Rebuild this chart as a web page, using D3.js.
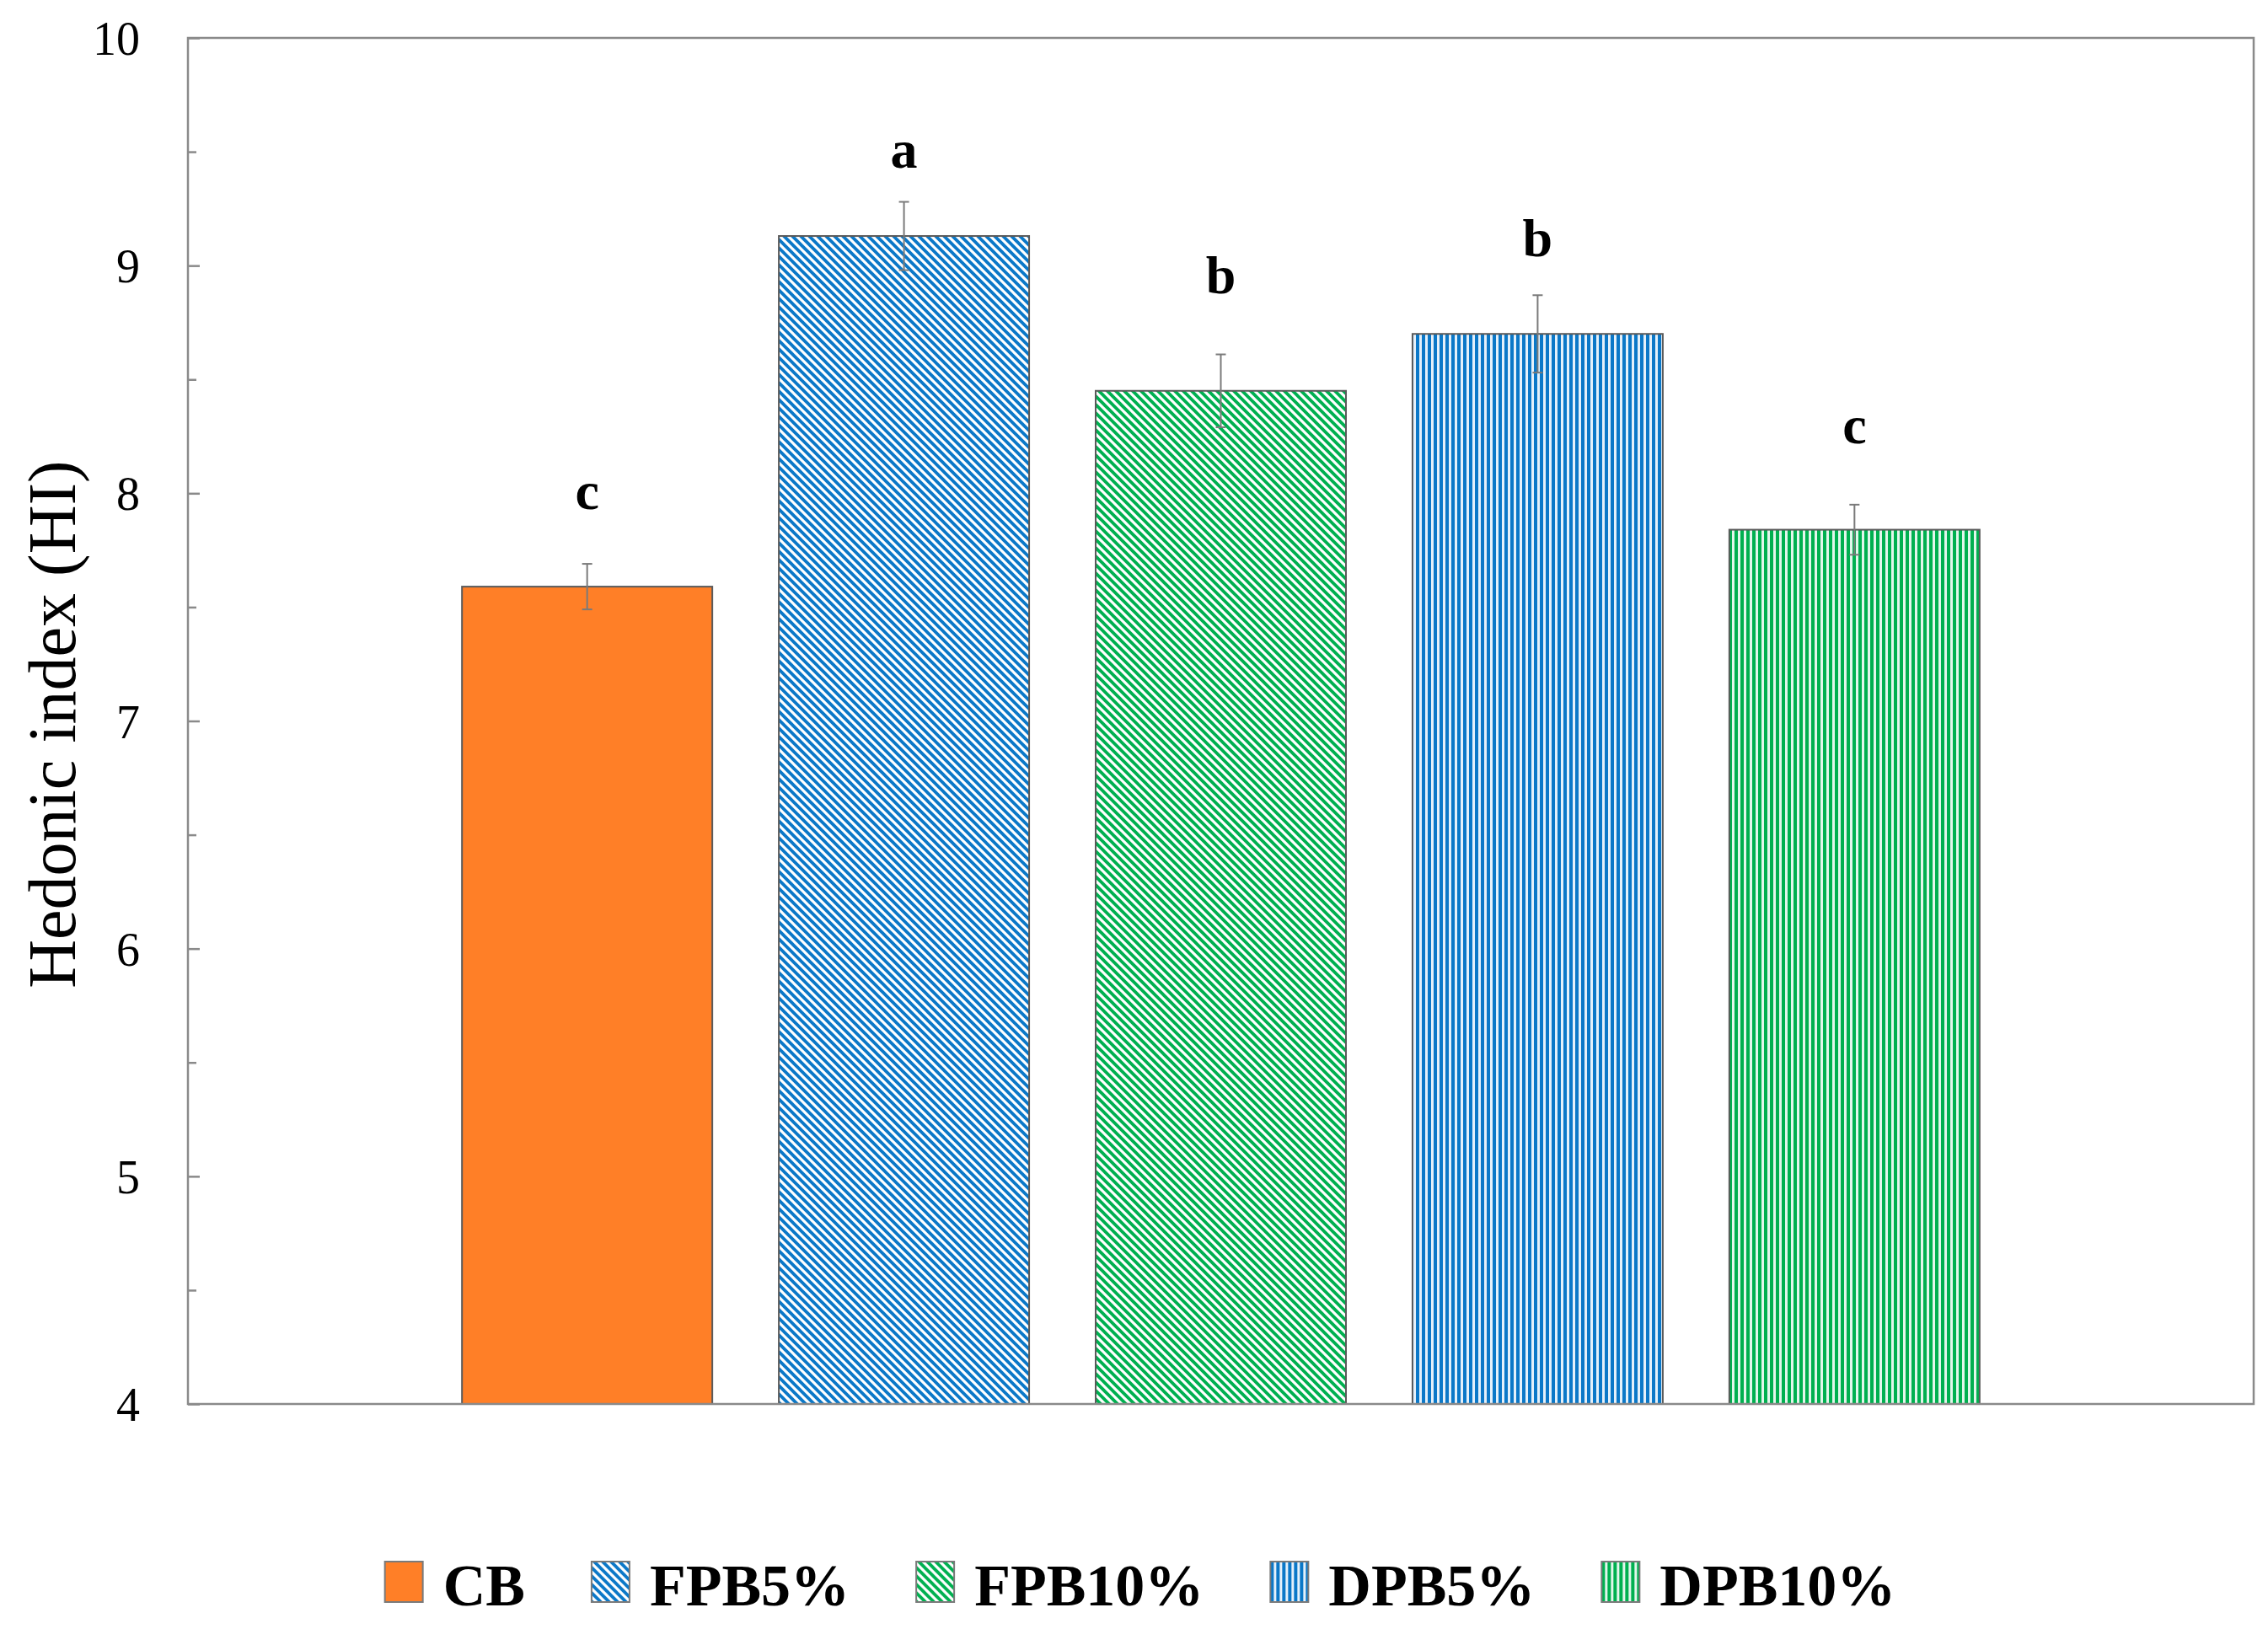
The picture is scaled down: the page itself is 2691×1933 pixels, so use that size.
<!DOCTYPE html>
<html>
<head>
<meta charset="utf-8">
<script src="https://cdn.jsdelivr.net/npm/d3@7"></script>
<style>
  html, body { margin: 0; padding: 0; background: #ffffff; }
  svg { display: block; }
</style>
</head>
<body>
<script>
// ---------- data ----------
const categories = ["CB", "FPB5%", "FPB10%", "DPB5%", "DPB10%"];
const hedonicValues = [7.59, 9.13, 8.45, 8.70, 7.84];
const errorValues = [0.10, 0.15, 0.16, 0.17, 0.11];
const letters = ["c", "a", "b", "b", "c"];
const letterLevels = [7.93, 9.43, 8.88, 9.04, 8.22];
const yTicks = [4, 5, 6, 7, 8, 9, 10];
const yMinorTicks = [4.5, 5.5, 6.5, 7.5, 8.5, 9.5];
const yLabel = "Hedonic index (HI)";
const fills = ["orange", "diagBlue", "diagGreen", "vertBlue", "vertGreen"];

// ---------- layout ----------
const W = 2691, H = 1933;
const plot = { left: 223, right: 2674, top: 45, bottom: 1666 };
const BLUE = "#0b78c8", GREEN = "#00b050", ORANGE = "#ff7f27";
const AXIS = "#8a8a8a";

const svg = d3.select("body").append("svg")
  .attr("width", W).attr("height", H)
  .attr("viewBox", `0 0 ${W} ${H}`);

// patterns
const defs = svg.append("defs");
function diag(id, color) {
  const p = defs.append("pattern").attr("id", id)
    .attr("patternUnits", "userSpaceOnUse").attr("width", 10).attr("height", 10);
  p.append("rect").attr("width", 10).attr("height", 10).attr("fill", "#ffffff");
  p.append("path").attr("d", "M-5,-5 L15,15 M-5,5 L5,15 M5,-5 L15,5")
    .attr("stroke", color).attr("stroke-width", 3.8).attr("fill", "none");
}
function vert(id, color, bg) {
  const p = defs.append("pattern").attr("id", id)
    .attr("patternUnits", "userSpaceOnUse").attr("width", 7).attr("height", 7);
  p.append("rect").attr("width", 7).attr("height", 7).attr("fill", bg);
  p.append("rect").attr("x", 0).attr("width", 4).attr("height", 7).attr("fill", color);
}
diag("diagBlue", BLUE);
diag("diagGreen", GREEN);
vert("vertBlue", BLUE, "#e4f0fa");
vert("vertGreen", GREEN, "#e2f6eb");
const fillOf = f => f === "orange" ? ORANGE : `url(#${f})`;

// scales
const x = d3.scaleBand().domain(categories)
  .range([plot.left, plot.right])
  .paddingInner(0.21).paddingOuter(0.865);
const y = d3.scaleLinear().domain([4, 10]).range([plot.bottom, plot.top]);

const FONT = "'Liberation Serif', 'Times New Roman', serif";

// bars
const data = categories.map((c, i) => ({
  c, v: hedonicValues[i], e: errorValues[i], l: letters[i], ly: letterLevels[i], f: fills[i]
}));

svg.append("g").selectAll("rect").data(data).join("rect")
  .attr("x", d => x(d.c))
  .attr("y", d => y(d.v))
  .attr("width", x.bandwidth())
  .attr("height", d => y(4) - y(d.v))
  .attr("fill", d => fillOf(d.f))
  .attr("stroke", "#5a5a5a")
  .attr("stroke-width", 2);

// error bars
const eg = svg.append("g").attr("stroke", "#7a7a7a").attr("stroke-width", 2).attr("fill", "none");
data.forEach(d => {
  const cx = x(d.c) + x.bandwidth() / 2;
  eg.append("line").attr("x1", cx).attr("x2", cx).attr("y1", y(d.v + d.e)).attr("y2", y(d.v - d.e));
  eg.append("line").attr("x1", cx - 6).attr("x2", cx + 6).attr("y1", y(d.v + d.e)).attr("y2", y(d.v + d.e));
  eg.append("line").attr("x1", cx - 6).attr("x2", cx + 6).attr("y1", y(d.v - d.e)).attr("y2", y(d.v - d.e));
});

// letters
svg.append("g").selectAll("text").data(data).join("text")
  .attr("x", d => x(d.c) + x.bandwidth() / 2)
  .attr("y", d => y(d.ly))
  .attr("text-anchor", "middle")
  .attr("font-family", FONT)
  .attr("font-weight", "bold")
  .attr("font-size", 64)
  .attr("fill", "#000")
  .text(d => d.l);

// frame
svg.append("rect")
  .attr("x", plot.left).attr("y", plot.top)
  .attr("width", plot.right - plot.left).attr("height", plot.bottom - plot.top)
  .attr("fill", "none").attr("stroke", AXIS).attr("stroke-width", 2.5);

// y axis (ticks inward)
const yAxis = d3.axisRight(y).tickValues(yTicks).tickSize(14).tickFormat(d3.format("d"));
const ag = svg.append("g").attr("transform", `translate(${plot.left},0)`).call(yAxis);
ag.select(".domain").remove();
ag.selectAll(".tick line").attr("stroke", AXIS).attr("stroke-width", 2.5);
ag.selectAll(".tick text")
  .attr("x", -57).attr("dy", "0.35em")
  .attr("text-anchor", "end")
  .attr("font-family", FONT).attr("font-size", 56).attr("fill", "#000");

const minor = d3.axisRight(y).tickValues(yMinorTicks).tickSize(10).tickFormat("");
const mg = svg.append("g").attr("transform", `translate(${plot.left},0)`).call(minor);
mg.select(".domain").remove();
mg.selectAll(".tick line").attr("stroke", AXIS).attr("stroke-width", 2.5);

// y label
svg.append("text")
  .attr("transform", `translate(62, ${(plot.top + plot.bottom) / 2 + 4}) rotate(-90)`)
  .attr("text-anchor", "middle")
  .attr("dominant-baseline", "central")
  .attr("font-family", FONT).attr("font-size", 80).attr("fill", "#000")
  .text(yLabel);

// legend
const lg = svg.append("g");
const sw = 45, sh = 48, gapT = 24, gapI = 79;
const items = lg.selectAll("g").data(data).join("g");
items.append("rect")
  .attr("width", sw).attr("height", sh)
  .attr("y", 1853)
  .attr("fill", d => fillOf(d.f))
  .attr("stroke", "#7a7a7a").attr("stroke-width", 2);
items.append("text")
  .attr("x", sw + gapT).attr("y", 1905)
  .attr("font-family", FONT).attr("font-weight", "bold").attr("font-size", 70)
  .attr("fill", "#000")
  .text(d => d.c);
let cursor = 0;
const offsets = [];
items.each(function () {
  const t = d3.select(this).select("text").node().getComputedTextLength();
  offsets.push(cursor);
  cursor += sw + gapT + t + gapI;
});
const total = cursor - gapI;
const startX = 1353 - total / 2;
items.attr("transform", (d, i) => `translate(${startX + offsets[i]},0)`);
</script>
</body>
</html>
